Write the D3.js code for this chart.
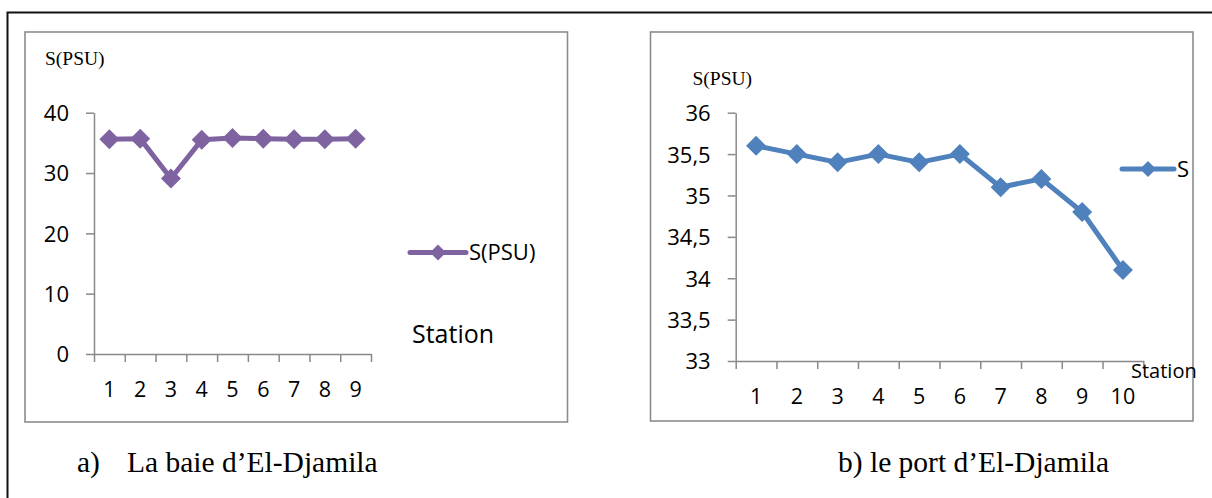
<!DOCTYPE html>
<html>
<head>
<meta charset="utf-8">
<script src="https://cdn.jsdelivr.net/npm/d3@7"></script>
<style>
  html, body { margin: 0; padding: 0; background: #fff; }
  svg { display: block; }
  .tick text { fill: #000; }
</style>
</head>
<body>
<svg id="fig" width="1212" height="498"></svg>
<script>
// Salinity by station, bay of El-Djamila (a) and port of El-Djamila (b)
const stationsBay = [1, 2, 3, 4, 5, 6, 7, 8, 9];
const salinityBay = [35.6, 35.7, 29.1, 35.5, 35.8, 35.7, 35.6, 35.6, 35.7];
const yTicksBay = [0, 10, 20, 30, 40];

const stationsPort = [1, 2, 3, 4, 5, 6, 7, 8, 9, 10];
const salinityPort = [35.6, 35.5, 35.4, 35.5, 35.4, 35.5, 35.1, 35.2, 34.8, 34.1];
const yTicksPort = [33, 33.5, 34, 34.5, 35, 35.5, 36];

const svg = d3.select("#fig");
const sans = "'Open Sans', sans-serif";
const serif = "'Liberation Serif', 'Times New Roman', serif";
const axisGrey = "#898989";

// outer frame (top and left rules)
svg.append("path")
  .attr("d", "M7.5,498 V12.5 H1212")
  .attr("fill", "none").attr("stroke", "#111").attr("stroke-width", 2);

function diamond(r) {
  return `M0,${-r} L${r},0 L0,${r} L${-r},0 Z`;
}

function drawPanel(cfg) {
  const g = svg.append("g");

  // chart-area frame
  g.append("rect")
    .attr("x", cfg.box[0]).attr("y", cfg.box[1])
    .attr("width", cfg.box[2]).attr("height", cfg.box[3])
    .attr("fill", "none").attr("stroke", "#8c8c8c").attr("stroke-width", 1.6);

  const y = d3.scaleLinear().domain(cfg.yDomain).range([cfg.yBottom, cfg.yTop]);
  const x = d3.scaleBand().domain(cfg.stations).range([cfg.xLeft, cfg.xRight]).padding(0);
  const xEdge = d3.scaleLinear().domain([0, cfg.stations.length]).range([cfg.xLeft, cfg.xRight]);

  // y axis
  const yAxis = g.append("g")
    .attr("transform", `translate(${cfg.xLeft},0)`)
    .call(d3.axisLeft(y).tickValues(cfg.yTicks).tickSize(8).tickSizeOuter(0).tickPadding(17)
      .tickFormat(d => String(d).replace(".", ",")));
  yAxis.selectAll("text").attr("font-family", sans).attr("font-size", 22).attr("dy", "0.36em");

  // x axis line and tick marks between categories
  g.append("g")
    .attr("transform", `translate(0,${cfg.yBottom})`)
    .call(d3.axisBottom(xEdge).tickValues(d3.range(cfg.stations.length + 1))
      .tickSize(8).tickSizeOuter(0).tickFormat(""));

  // category labels
  const xLab = g.append("g")
    .attr("transform", `translate(0,${cfg.yBottom})`)
    .call(d3.axisBottom(x).tickSize(0).tickPadding(0));
  xLab.select(".domain").remove();
  xLab.selectAll("text").attr("font-family", sans).attr("font-size", 21.5)
    .attr("y", 43).attr("dy", 0);

  g.selectAll(".domain, .tick line").attr("stroke", axisGrey).attr("stroke-width", 1.5);

  // series
  const line = d3.line()
    .x((d, i) => x(cfg.stations[i]) + x.bandwidth() / 2)
    .y(d => y(d));
  g.append("path").datum(cfg.values)
    .attr("d", line)
    .attr("fill", "none").attr("stroke", cfg.color).attr("stroke-width", 5)
    .attr("stroke-linejoin", "round").attr("stroke-linecap", "round");
  g.selectAll(".pt").data(cfg.values).enter().append("path")
    .attr("class", "pt")
    .attr("d", diamond(10))
    .attr("transform", (d, i) => `translate(${x(cfg.stations[i]) + x.bandwidth() / 2},${y(d)})`)
    .attr("fill", cfg.color);

  // axis title
  g.append("text")
    .attr("x", cfg.title[0]).attr("y", cfg.title[1])
    .attr("font-family", serif).attr("font-size", 19.5).attr("fill", "#000")
    .text("S(PSU)");

  // legend
  const lg = g.append("g").attr("transform", `translate(${cfg.legend[0]},${cfg.legend[1]})`);
  lg.append("line").attr("x1", 0).attr("x2", cfg.legendLen).attr("y1", 0).attr("y2", 0)
    .attr("stroke", cfg.color).attr("stroke-width", 5).attr("stroke-linecap", "round");
  lg.append("path").attr("d", diamond(8))
    .attr("transform", `translate(${cfg.legendLen / 2},0)`).attr("fill", cfg.color);
  lg.append("text").attr("x", cfg.legendLen + 3).attr("y", 0).attr("dy", "0.36em")
    .attr("font-family", sans).attr("font-size", 22).attr("fill", "#000")
    .text(cfg.legendText);

  // x axis title
  g.append("text")
    .attr("x", cfg.station[0]).attr("y", cfg.station[1])
    .attr("font-family", sans).attr("font-size", cfg.station[2]).attr("fill", "#000")
    .text("Station");

  // caption under the panel
  svg.append("text")
    .attr("x", cfg.caption[0]).attr("y", cfg.caption[1])
    .attr("font-family", serif).attr("font-size", 29.5).attr("fill", "#000")
    .text(cfg.captionText);
}

drawPanel({
  box: [25, 32, 542.5, 390],
  stations: stationsBay, values: salinityBay,
  yDomain: [0, 40], yTicks: yTicksBay,
  xLeft: 94, xRight: 371, yTop: 112.7, yBottom: 354,
  color: "#7f63a1",
  title: [45, 65],
  legend: [410, 252.5], legendLen: 56, legendText: "S(PSU)",
  station: [412, 343, 25],
  caption: [77, 472], captionText: "a)"
});

drawPanel({
  box: [650.5, 32, 542.5, 389],
  stations: stationsPort, values: salinityPort,
  yDomain: [33, 36], yTicks: yTicksPort,
  xLeft: 735.7, xRight: 1143.3, yTop: 112.7, yBottom: 361,
  color: "#4f81bd",
  title: [692.5, 85],
  legend: [1122, 169], legendLen: 52, legendText: "S",
  station: [1131, 378, 20],
  caption: [838, 472], captionText: "b) le port d\u2019El-Djamila"
});

// remaining caption text for panel a (tab-separated from its label)
svg.append("text")
  .attr("x", 127).attr("y", 472)
  .attr("font-family", serif).attr("font-size", 29.5).attr("fill", "#000")
  .text("La baie d\u2019El-Djamila");
</script>
</body>
</html>
